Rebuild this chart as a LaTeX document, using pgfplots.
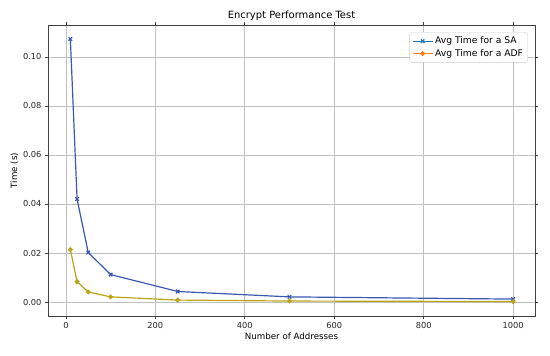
\documentclass[border=0pt]{standalone}
\usepackage{pgfplots}
\pgfplotsset{compat=1.18}
\usepackage{fontspec}
\setmainfont{DejaVu Sans}
\definecolor{sacol}{HTML}{3858B4}
\definecolor{adfcol}{HTML}{BBA318}
\definecolor{tabblue}{HTML}{1F77B4}
\definecolor{taborange}{HTML}{FF7F0E}
\begin{document}
\begin{tikzpicture}[x=1bp,y=1bp]
\path[use as bounding box] (-48,-39) rectangle (502,316);
\begin{axis}[
  at={(0,0)}, anchor=south west,
  scale only axis, width=487bp, height=291bp,
  xmin=-40, xmax=1049, ymin=-0.0057, ymax=0.113,
  xtick={0,200,400,600,800,1000},
  ytick={0,0.02,0.04,0.06,0.08,0.10},
  xticklabel style={/pgf/number format/.cd,1000 sep={}},
  yticklabel style={/pgf/number format/.cd,fixed,fixed zerofill,precision=2},
  /pgf/number format/assume math mode=true,
  ticklabel style={font=\fontsize{8.3}{9}\selectfont, text=black!85},
  label style={font=\fontsize{8.7}{10}\selectfont},
  xlabel={Number of Addresses}, ylabel={Time (s)},
  xlabel style={yshift=3bp},
  ylabel style={yshift=-2bp},
  title={Encrypt Performance Test},
  title style={font=\fontsize{10}{12}\selectfont, yshift=-5bp},
  grid=major, grid style={black!25, line width=0.7pt},
  axis line style={black!75, line width=0.7pt},
  tick align=outside, tick style={black!75, line width=0.6pt},
  major tick length=3bp,
  legend style={at={(0.985,0.975)}, anchor=north east, draw=black!20, rounded corners=2bp,
    font=\fontsize{9.2}{10}\selectfont, inner sep=2.5bp, row sep=0bp},
  legend image code/.code={\draw[mark repeat=2,mark phase=2,#1] plot coordinates {(0cm,0cm) (0.35cm,0cm) (0.7cm,0cm)};},
  legend cell align=left,
  scaled y ticks=false,
]
\addlegendimage{tabblue, line width=1.2pt, mark=x, mark size=2.5pt}
\addlegendentry{Avg Time for a SA}
\addlegendimage{taborange, line width=1.2pt, mark=*, mark size=1.8pt}
\addlegendentry{Avg Time for a ADF}
\addplot[sacol, line width=1.2pt, mark=x, mark size=2.5pt, forget plot] coordinates {
(10,0.1073) (25,0.0420) (50,0.0202) (100,0.0112) (250,0.0043) (500,0.0021) (1000,0.0012)};
\addplot[adfcol, line width=1.2pt, mark=*, mark size=1.8pt, forget plot] coordinates {
(10,0.0214) (25,0.0083) (50,0.0041) (100,0.0021) (250,0.0008) (500,0.0004) (1000,0.0002)};
\end{axis}
\end{tikzpicture}
\end{document}
